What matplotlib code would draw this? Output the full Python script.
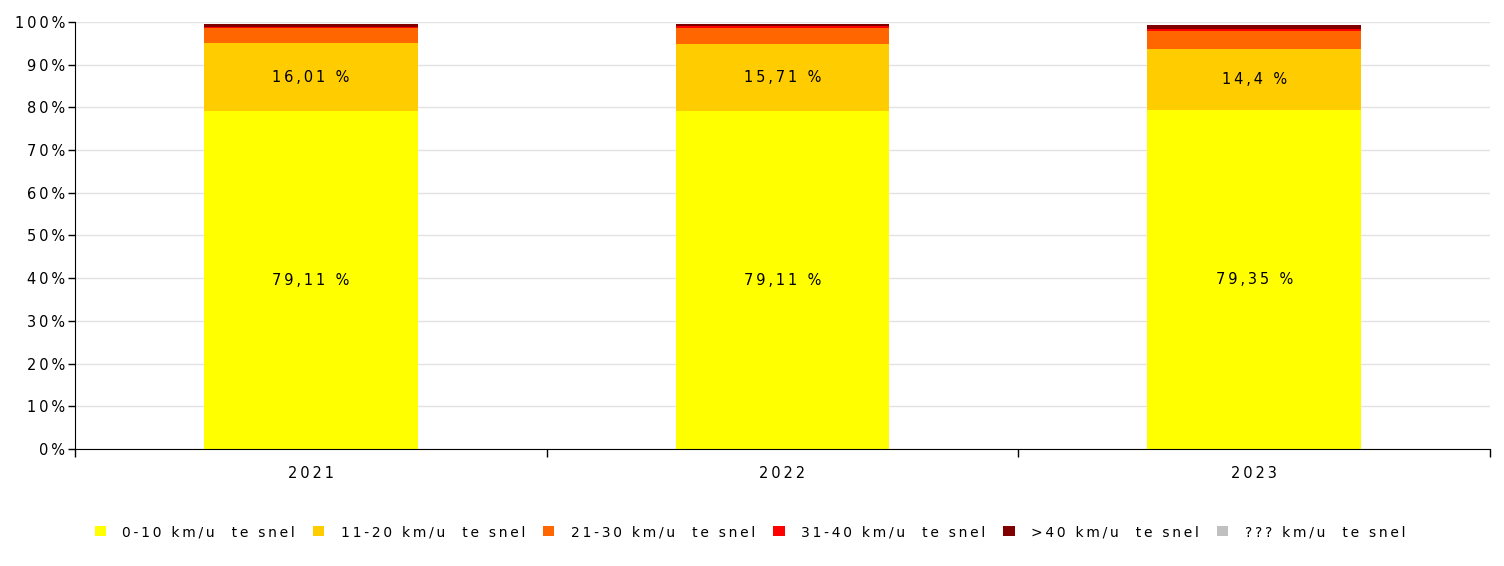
import matplotlib
matplotlib.use("Agg")
import matplotlib.pyplot as plt
import numpy as np
from matplotlib.ticker import FuncFormatter, MultipleLocator

years = ["2021", "2022", "2023"]
categories = [
    "0-10 km/u  te snel",
    "11-20 km/u  te snel",
    "21-30 km/u  te snel",
    "31-40 km/u  te snel",
    ">40 km/u  te snel",
    "??? km/u  te snel",
]
colors = ["#FFFF00", "#FFCC00", "#FF6600", "#FF0000", "#800000", "#C0C0C0"]

# share per year (%), one list per speed class
v_0_10 = [79.11, 79.11, 79.35]
v_11_20 = [16.01, 15.71, 14.40]
v_21_30 = [3.40, 3.75, 4.15]
v_31_40 = [0.35, 0.40, 0.55]
v_over_40 = [0.55, 0.55, 0.85]
v_unknown = [0.0, 0.0, 0.0]

labels_2021 = {0: "79,11 %", 1: "16,01 %"}
labels_2022 = {0: "79,11 %", 1: "15,71 %"}
labels_2023 = {0: "79,35 %", 1: "14,4 %"}
segment_labels = [labels_2021, labels_2022, labels_2023]

series = [v_0_10, v_11_20, v_21_30, v_31_40, v_over_40, v_unknown]


def spaced(s):
    # the original renderer uses loose letter spacing
    return "\u2009".join(s)


fig = plt.figure(figsize=(15.04, 5.66), dpi=100, facecolor="white")
ax = fig.add_axes([75 / 1504, 1 - 449 / 566, (1490 - 75) / 1504, (449 - 22) / 566])

x = np.arange(len(years))
bottom = np.zeros(len(years))
for vals, col, name in zip(series, colors, categories):
    vals = np.asarray(vals, dtype=float)
    ax.bar(x, vals, width=0.453, bottom=bottom, color=col, label=spaced(name), linewidth=0)
    bottom += vals

# labels inside the two big segments
for i in range(len(years)):
    base = 0.0
    for k, vals in enumerate(series):
        if k in segment_labels[i]:
            ax.text(x[i], base + vals[i] / 2, spaced(segment_labels[i][k]), ha="center", va="center",
                    fontsize=10.5, color="black")
        base += vals[i]

ax.set_xlim(-0.5, 2.5)
ax.set_ylim(0, 100)
ax.yaxis.set_major_locator(MultipleLocator(10))
ax.yaxis.set_major_formatter(FuncFormatter(lambda v, _: spaced(f"{v:.0f}%")))
ax.grid(axis="y", color="#e3e3e3", linewidth=1)
ax.set_axisbelow(True)

ax.set_xticks(x)
ax.set_xticklabels([spaced(y) for y in years])
ax.set_xticks([-0.5, 0.5, 1.5, 2.5], minor=True)
ax.tick_params(axis="x", which="major", length=0, pad=12, labelsize=10.5)
ax.tick_params(axis="x", which="minor", length=6, width=1, direction="out")
ax.tick_params(axis="y", length=5, width=1, direction="out", labelsize=10.5, pad=2)

for side in ["top", "right"]:
    ax.spines[side].set_visible(False)
ax.spines["left"].set_color("black")
ax.spines["bottom"].set_color("black")

handles, labs = ax.get_legend_handles_labels()
leg = fig.legend(handles, labs, loc="center", bbox_to_anchor=(750 / 1504, 1 - 532 / 566),
                 ncol=6, frameon=False, fontsize=10, handlelength=0.8, handleheight=0.8,
                 handletextpad=1.2, columnspacing=1.3)

fig.savefig("out.png", dpi=100, facecolor="white")
